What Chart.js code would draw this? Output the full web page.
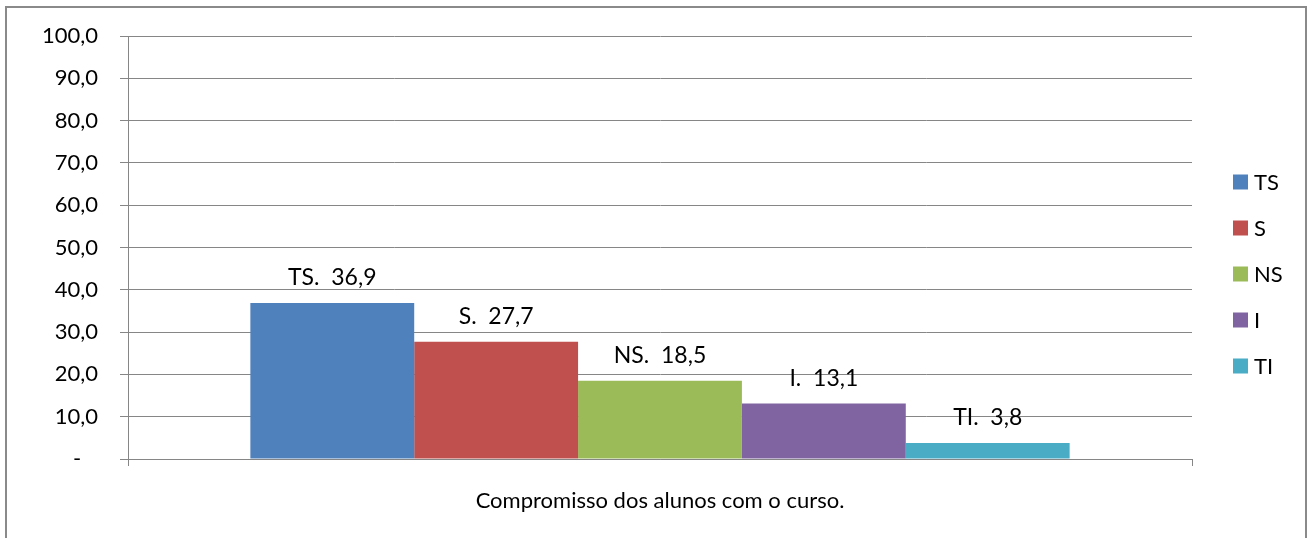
<!DOCTYPE html>
<html>
<head>
<meta charset="utf-8">
<script src="https://cdn.jsdelivr.net/npm/chart.js@4/dist/chart.umd.min.js"></script>
<style>
    html, body { margin: 0; padding: 0; background: #fff; overflow: hidden; }
    #wrap { position: relative; width: 1315px; height: 538px; }
</style>
</head>
<body>
<div id="wrap"><canvas id="chart"></canvas></div>
<script>
// dados do gráfico
const categories = ['Compromisso dos alunos com o curso.'];
const seriesNames = ['TS', 'S', 'NS', 'I', 'TI'];
const seriesValues = [36.9, 27.7, 18.5, 13.1, 3.8];
const seriesColors = ['#4F81BD', '#C0504D', '#9BBB59', '#8064A2', '#4BACC6'];
const yTickLabels = ['-   ', '10,0', '20,0', '30,0', '40,0', '50,0', '60,0', '70,0', '80,0', '90,0', '100,0'];

const FONT = 'Lato, "Open Sans", sans-serif';
const GRID = '#868686';

const fmt = v => v.toFixed(1).replace('.', ',');

// moldura cinza à volta do gráfico
const framePlugin = {
    id: 'frame',
    afterDraw(chart) {
        const c = chart.ctx;
        c.save();
        c.strokeStyle = '#8a8a8a';
        c.lineWidth = 2;
        c.strokeRect(6, 7, 1300, 600);
        c.restore();
    }
};

// rótulos por cima das barras: "TS.  36,9"
const labelsPlugin = {
    id: 'barLabels',
    afterDatasetsDraw(chart) {
        const c = chart.ctx;
        c.save();
        c.font = '23px ' + FONT;
        c.fillStyle = '#000';
        c.textAlign = 'center';
        c.textBaseline = 'alphabetic';
        chart.data.datasets.forEach((ds, i) => {
            const bar = chart.getDatasetMeta(i).data[0];
            c.fillText(ds.label + '.  ' + fmt(ds.data[0]), bar.x, bar.y - 18);
        });
        c.restore();
    }
};

// legenda à direita
const legendPlugin = {
    id: 'sideLegend',
    afterDraw(chart) {
        const c = chart.ctx;
        const ds = chart.data.datasets;
        const step = 46;
        const y0 = 274 - step * (ds.length - 1) / 2;
        c.save();
        c.font = '22px ' + FONT;
        c.textBaseline = 'middle';
        c.textAlign = 'left';
        ds.forEach((d, i) => {
            const y = y0 + i * step;
            c.fillStyle = d.backgroundColor;
            c.fillRect(1233, y - 7.5, 15, 15);
            c.fillStyle = '#000';
            c.fillText(d.label, 1254, y + 1);
        });
        c.restore();
    }
};

const ctx = document.getElementById('chart').getContext('2d');
new Chart(ctx, {
    type: 'bar',
    data: {
        labels: categories,
        datasets: seriesNames.map((name, i) => ({
            label: name,
            data: [seriesValues[i]],
            backgroundColor: seriesColors[i],
            borderWidth: 0,
            categoryPercentage: 0.77,
            barPercentage: 1.0
        }))
    },
    options: {
        responsive: true,
        maintainAspectRatio: false,
        animation: false,
        layout: { padding: { left: 0, top: 36, right: 123, bottom: 0 } },
        plugins: {
            legend: { display: false },
            tooltip: { enabled: false }
        },
        scales: {
            y: {
                min: 0,
                max: 100,
                ticks: {
                    stepSize: 10,
                    color: '#000',
                    font: { family: FONT, size: 22 },
                    padding: 22,
                    callback: (v, idx) => yTickLabels[idx]
                },
                grid: { color: GRID, lineWidth: 1, tickLength: 8 },
                border: { display: true, color: GRID, width: 1 },
                afterFit: s => { s.width = 128; }
            },
            x: {
                ticks: {
                    color: '#000',
                    font: { family: FONT, size: 22 },
                    padding: 22
                },
                grid: { color: GRID, drawOnChartArea: false, drawTicks: true, tickLength: 7 },
                border: { display: true, color: GRID, width: 1 },
                afterFit: s => { s.height = 79; }
            }
        }
    },
    plugins: [framePlugin, labelsPlugin, legendPlugin]
});
</script>
</body>
</html>
